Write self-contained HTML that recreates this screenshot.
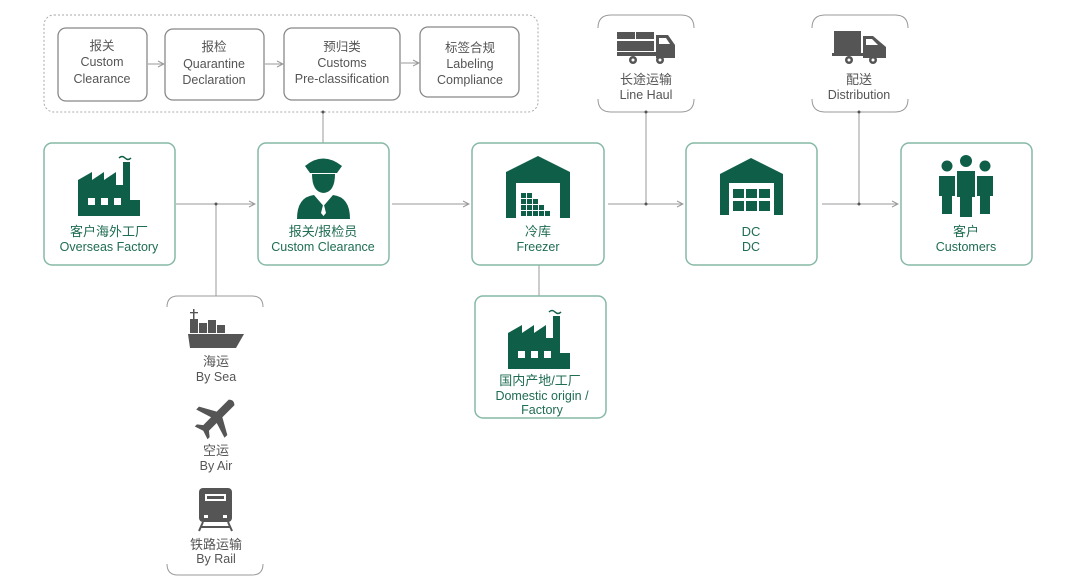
<!DOCTYPE html>
<html><head><meta charset="utf-8"><style>
html,body{margin:0;padding:0;background:#fff;}
svg{display:block}
.g{fill:#1f6d52;font-family:"Liberation Sans","Noto Sans CJK SC",sans-serif;text-anchor:middle}
.k{fill:#555;font-family:"Liberation Sans","Noto Sans CJK SC",sans-serif;text-anchor:middle}
.box{fill:#fff;stroke:#86b9a5;stroke-width:1.5}
.sb{fill:#fff;stroke:#888;stroke-width:1.3}
.ln{stroke:#999;stroke-width:1;fill:none}
.ic{fill:#0f5e48}
.gi{fill:#555}
</style></head><body>
<svg width="1080" height="586" viewBox="0 0 1080 586" xmlns="http://www.w3.org/2000/svg">
<defs><marker id="a" markerWidth="8" markerHeight="8" refX="7" refY="4" orient="auto" markerUnits="userSpaceOnUse"><path d="M1,1 L7,4 L1,7" fill="none" stroke="#999" stroke-width="1"/></marker></defs>

<rect x="44" y="15" width="494" height="97" rx="10" fill="none" stroke="#aaa" stroke-width="1" stroke-dasharray="2,2"/>
<rect class="sb" x="58" y="28" width="89" height="73" rx="8"/>
<rect class="sb" x="165" y="29" width="99" height="71" rx="8"/>
<rect class="sb" x="284" y="28" width="116" height="72" rx="8"/>
<rect class="sb" x="420" y="27" width="99" height="70" rx="8"/>
<line class="ln" x1="148" y1="64" x2="164" y2="64" marker-end="url(#a)"/>
<line class="ln" x1="265" y1="64" x2="283" y2="64" marker-end="url(#a)"/>
<line class="ln" x1="401" y1="63" x2="419" y2="63" marker-end="url(#a)"/>
<g class="k" font-size="12.5">
<text x="102" y="50">报关</text><text x="102" y="66">Custom</text><text x="102" y="83">Clearance</text>
<text x="214" y="51">报检</text><text x="214" y="68">Quarantine</text><text x="214" y="84">Declaration</text>
<text x="342" y="51">预归类</text><text x="342" y="67">Customs</text><text x="342" y="83">Pre-classification</text>
<text x="470" y="52">标签合规</text><text x="470" y="68">Labeling</text><text x="470" y="84">Compliance</text>
</g>

<path class="ln" d="M598,28 Q598,15 611,15 L681,15 Q694,15 694,28" stroke="#888"/>
<path class="ln" d="M598,99 Q598,112 611,112 L681,112 Q694,112 694,99" stroke="#888"/>
<path class="ln" d="M812,28 Q812,15 825,15 L895,15 Q908,15 908,28" stroke="#888"/>
<path class="ln" d="M812,99 Q812,112 825,112 L895,112 Q908,112 908,99" stroke="#888"/>
<path class="ln" d="M167,307 Q167,296 178,296 L252,296 Q263,296 263,307" stroke="#888"/>
<path class="ln" d="M167,564 Q167,575 178,575 L252,575 Q263,575 263,564" stroke="#888"/>

<line class="ln" x1="176" y1="204" x2="255" y2="204" marker-end="url(#a)"/>
<line class="ln" x1="216" y1="204" x2="216" y2="296"/><circle cx="216" cy="204" r="1.5" fill="#555"/>
<line class="ln" x1="323" y1="112" x2="323" y2="143"/><circle cx="323" cy="112" r="1.5" fill="#555"/>
<line class="ln" x1="392" y1="204" x2="469" y2="204" marker-end="url(#a)"/>
<line class="ln" x1="608" y1="204" x2="683" y2="204" marker-end="url(#a)"/>
<line class="ln" x1="646" y1="112" x2="646" y2="204"/><circle cx="646" cy="204" r="1.5" fill="#555"/><circle cx="646" cy="112" r="1.5" fill="#555"/>
<line class="ln" x1="822" y1="204" x2="898" y2="204" marker-end="url(#a)"/>
<line class="ln" x1="859" y1="112" x2="859" y2="204"/><circle cx="859" cy="204" r="1.5" fill="#555"/><circle cx="859" cy="112" r="1.5" fill="#555"/>
<line class="ln" x1="539" y1="265" x2="539" y2="296"/>

<rect class="box" x="44" y="143" width="131" height="122" rx="8"/>
<rect class="box" x="258" y="143" width="131" height="122" rx="8"/>
<rect class="box" x="472" y="143" width="132" height="122" rx="8"/>
<rect class="box" x="686" y="143" width="131" height="122" rx="8"/>
<rect class="box" x="901" y="143" width="131" height="122" rx="8"/>
<rect class="box" x="475" y="296" width="131" height="122" rx="8"/>

<g class="ic">
<path d="M78,216 V185 L78,180 L92,172 V180 L104,172 V180 L116,172 V185 L123,185 V162 H130 V200 H140 V216 Z"/>
<path d="M119,158 q3,-3 6,0 q3,3 6,0" fill="none" stroke="#0f5e48" stroke-width="1.5"/>
</g>
<g fill="#fff"><rect x="88" y="198" width="7" height="7"/><rect x="101" y="198" width="7" height="7"/><rect x="114" y="198" width="7" height="7"/></g>
<text class="g" x="109" y="236" font-size="13">客户海外工厂</text>
<text class="g" x="109" y="251" font-size="12.5">Overseas Factory</text>

<g class="ic">
<path d="M305,166 Q323,151 342,166 L337,173 H310 Z"/>
<path d="M312,174 H335 Q335,192 323.5,193 Q312,192 312,174 Z"/>
<path d="M297,219 Q297,197 314,195 L323.5,206 L333,195 Q350,197 350,219 Z"/>
</g>
<path d="M321,198 L323.5,203 L326,198 M323.5,203 L321,213 L323.5,216 L326,213 Z" fill="#fff"/>
<text class="g" x="323" y="236" font-size="13">报关/报检员</text>
<text class="g" x="323" y="251" font-size="12.5">Custom Clearance</text>

<path class="ic" d="M506,218 V172 L538,156 L570,172 V218 H560 V183 H516 V218 Z"/>
<g class="ic">
<rect x="521" y="193" width="5" height="5"/><rect x="527" y="193" width="5" height="5"/>
<rect x="521" y="199" width="5" height="5"/><rect x="527" y="199" width="5" height="5"/><rect x="533" y="199" width="5" height="5"/>
<rect x="521" y="205" width="5" height="5"/><rect x="527" y="205" width="5" height="5"/><rect x="533" y="205" width="5" height="5"/><rect x="539" y="205" width="5" height="5"/>
<rect x="521" y="211" width="5" height="5"/><rect x="527" y="211" width="5" height="5"/><rect x="533" y="211" width="5" height="5"/><rect x="539" y="211" width="5" height="5"/><rect x="545" y="211" width="5" height="5"/>
</g>
<text class="g" x="538" y="236" font-size="13">冷库</text>
<text class="g" x="538" y="251" font-size="12.5">Freezer</text>

<path class="ic" d="M720,215 V174 L751,158 L783,174 V215 H774 V183 H729 V215 Z"/>
<g class="ic">
<rect x="733" y="189" width="11" height="9"/><rect x="746" y="189" width="11" height="9"/><rect x="759" y="189" width="11" height="9"/>
<rect x="733" y="201" width="11" height="10"/><rect x="746" y="201" width="11" height="10"/><rect x="759" y="201" width="11" height="10"/>
</g>
<text class="g" x="751" y="236" font-size="13">DC</text>
<text class="g" x="751" y="251" font-size="12.5">DC</text>

<g class="ic">
<circle cx="947" cy="166" r="5.5"/><path d="M939,176 H955 V196 H952 V214 H942 V196 H939 Z"/>
<circle cx="966" cy="161" r="6"/><path d="M957,171 H975 V197 H972 V217 H960 V197 H957 Z"/>
<circle cx="985" cy="166" r="5.5"/><path d="M977,176 H993 V196 H990 V214 H980 V196 H977 Z"/>
</g>
<text class="g" x="966" y="236" font-size="13">客户</text>
<text class="g" x="966" y="251" font-size="12.5">Customers</text>

<g class="ic">
<path d="M508,369 V337 L508,333 L522,325 V333 L534,325 V333 L546,325 V338 L553,338 V316 H560 V353 H570 V369 Z"/>
<path d="M549,312 q3,-3 6,0 q3,3 6,0" fill="none" stroke="#0f5e48" stroke-width="1.5"/>
</g>
<g fill="#fff"><rect x="518" y="351" width="7" height="7"/><rect x="531" y="351" width="7" height="7"/><rect x="544" y="351" width="7" height="7"/></g>
<text class="g" x="540" y="385" font-size="13">国内产地/工厂</text>
<text class="g" x="542" y="400" font-size="12.5">Domestic origin /</text>
<text class="g" x="542" y="414" font-size="12.5">Factory</text>

<g class="gi">
<rect x="617" y="32" width="18" height="7"/><rect x="636" y="32" width="18" height="7"/>
<rect x="617" y="41" width="37" height="10"/>
<path d="M656,35 H668 L675,45 V58 H656 Z"/>
<rect x="617" y="52" width="58" height="4"/>
<circle cx="633" cy="60" r="4"/><circle cx="660" cy="60" r="4"/>
</g>
<circle cx="633" cy="60" r="1.5" fill="#fff"/><circle cx="660" cy="60" r="1.5" fill="#fff"/>
<path d="M659,38 H666 L670,44 H659 Z" fill="#fff"/>
<text class="k" x="646" y="84" font-size="13">长途运输</text>
<text class="k" x="646" y="99" font-size="12.5">Line Haul</text>

<g class="gi">
<rect x="834" y="31" width="27" height="22"/>
<path d="M863,36 H873 L886,47 V58 H863 Z"/>
<rect x="832" y="53" width="54" height="3"/>
<circle cx="849" cy="60" r="4"/><circle cx="873" cy="60" r="4"/>
</g>
<circle cx="849" cy="60" r="1.5" fill="#fff"/><circle cx="873" cy="60" r="1.5" fill="#fff"/>
<path d="M866,39 H872 L878,45 H866 Z" fill="#fff"/>
<text class="k" x="859" y="84" font-size="13">配送</text>
<text class="k" x="859" y="99" font-size="12.5">Distribution</text>

<g class="gi">
<rect x="193" y="309" width="1.5" height="10"/><rect x="190" y="312" width="8" height="1.3"/>
<rect x="190" y="319" width="8" height="14"/>
<rect x="199" y="323" width="8" height="10"/><rect x="208" y="320" width="8" height="13"/><rect x="217" y="325" width="8" height="8"/>
<path d="M188,334 H244 L236,348 H190 Z"/>
</g>
<text class="k" x="216" y="366" font-size="13">海运</text>
<text class="k" x="216" y="381" font-size="12.5">By Sea</text>

<g transform="translate(216,418) rotate(45)">
<path class="gi" d="M-4,-22 Q0,-26 4,-22 V-5 L20,4 V8 L4,3 V14 L9,18 V21 L0,18 L-9,21 V18 L-4,14 V3 L-20,8 V4 L-4,-5 Z"/>
</g>
<text class="k" x="216" y="455" font-size="13">空运</text>
<text class="k" x="216" y="470" font-size="12.5">By Air</text>

<rect x="199" y="488" width="33" height="34" rx="4" class="gi"/>
<rect x="205" y="494" width="21" height="7" fill="#fff"/><rect x="207" y="496" width="17" height="3" class="gi"/>
<rect x="204" y="515" width="4" height="3" fill="#fff"/><rect x="223" y="515" width="4" height="3" fill="#fff"/>
<path d="M203,522 L199,531 M228,522 L232,531 M201,527 H230" stroke="#555" stroke-width="2" fill="none"/>
<text class="k" x="216" y="549" font-size="13">铁路运输</text>
<text class="k" x="216" y="563" font-size="12.5">By Rail</text>
</svg>
</body></html>
